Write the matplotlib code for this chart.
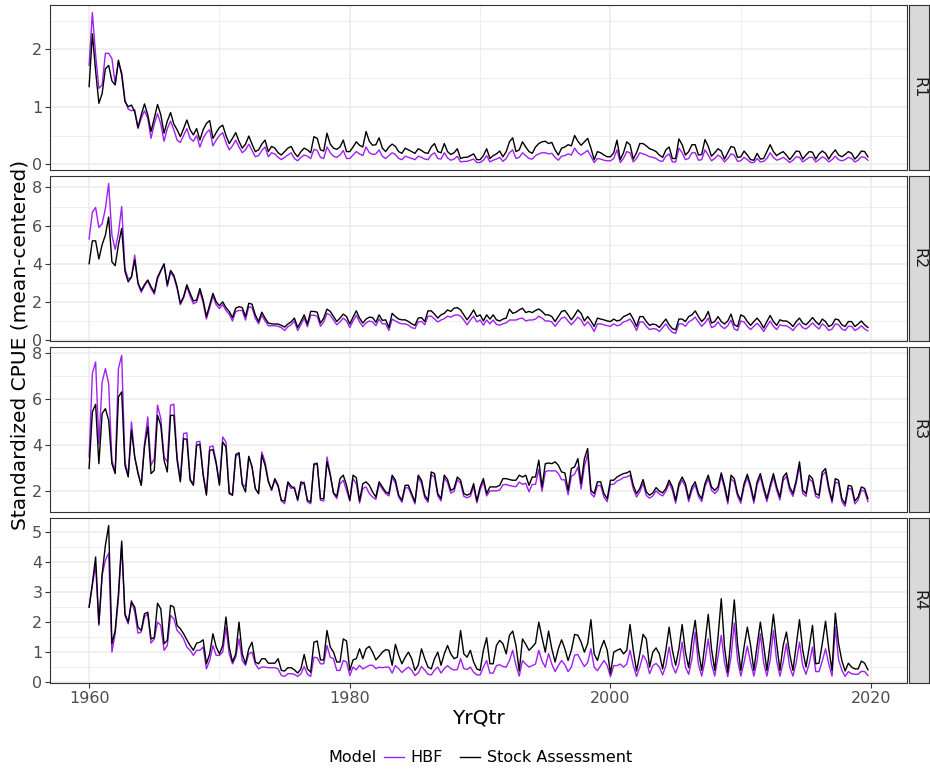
import numpy as np
import matplotlib.pyplot as plt
from matplotlib.lines import Line2D

regions = ['R1', 'R2', 'R3', 'R4']
years = np.arange(1960, 2020)
yrqtr = (years[:, None] + np.array([0.0, 0.25, 0.5, 0.75])).ravel()

# quarterly standardized CPUE, 1960Q1 - 2019Q4, five years per row
r1_sa = [
    1.35, 2.27, 1.62, 1.06, 1.23, 1.66, 1.72, 1.45, 1.38, 1.81, 1.55, 1.09, 1.00, 1.03, 0.91, 0.64, 0.86, 1.05, 0.86, 0.57,
    0.80, 1.04, 0.86, 0.54, 0.75, 0.90, 0.70, 0.60, 0.48, 0.62, 0.77, 0.60, 0.51, 0.62, 0.42, 0.60, 0.71, 0.76, 0.45, 0.55,
    0.64, 0.68, 0.50, 0.36, 0.45, 0.55, 0.40, 0.28, 0.35, 0.49, 0.35, 0.22, 0.25, 0.35, 0.42, 0.22, 0.31, 0.28, 0.20, 0.16,
    0.22, 0.28, 0.31, 0.20, 0.13, 0.22, 0.28, 0.25, 0.20, 0.48, 0.45, 0.25, 0.23, 0.54, 0.35, 0.28, 0.26, 0.30, 0.42, 0.22,
    0.22, 0.30, 0.39, 0.33, 0.30, 0.57, 0.40, 0.33, 0.34, 0.46, 0.28, 0.22, 0.30, 0.35, 0.31, 0.22, 0.19, 0.28, 0.25, 0.22,
    0.19, 0.27, 0.24, 0.20, 0.19, 0.30, 0.36, 0.22, 0.20, 0.36, 0.22, 0.17, 0.20, 0.27, 0.10, 0.12, 0.12, 0.15, 0.18, 0.08,
    0.08, 0.15, 0.27, 0.10, 0.15, 0.18, 0.23, 0.13, 0.22, 0.39, 0.46, 0.22, 0.25, 0.39, 0.30, 0.22, 0.19, 0.30, 0.36, 0.39,
    0.40, 0.36, 0.38, 0.25, 0.16, 0.28, 0.30, 0.34, 0.32, 0.50, 0.40, 0.33, 0.39, 0.45, 0.28, 0.08, 0.22, 0.20, 0.16, 0.13,
    0.13, 0.20, 0.42, 0.08, 0.20, 0.39, 0.34, 0.09, 0.20, 0.36, 0.36, 0.32, 0.27, 0.25, 0.22, 0.16, 0.12, 0.25, 0.30, 0.10,
    0.10, 0.44, 0.34, 0.16, 0.22, 0.34, 0.34, 0.16, 0.17, 0.43, 0.31, 0.14, 0.20, 0.27, 0.23, 0.09, 0.20, 0.31, 0.29, 0.12,
    0.13, 0.23, 0.16, 0.08, 0.07, 0.19, 0.09, 0.10, 0.22, 0.34, 0.22, 0.15, 0.19, 0.22, 0.16, 0.08, 0.15, 0.23, 0.22, 0.09,
    0.16, 0.22, 0.21, 0.09, 0.18, 0.23, 0.19, 0.09, 0.18, 0.25, 0.16, 0.13, 0.17, 0.22, 0.19, 0.09, 0.15, 0.23, 0.22, 0.13,
]
r1_hbf = [
    1.72, 2.64, 1.90, 1.32, 1.38, 1.93, 1.93, 1.84, 1.40, 1.78, 1.60, 1.12, 0.96, 0.93, 0.95, 0.62, 0.80, 0.93, 0.80, 0.45,
    0.70, 0.88, 0.70, 0.40, 0.62, 0.75, 0.60, 0.42, 0.38, 0.50, 0.62, 0.45, 0.40, 0.50, 0.30, 0.45, 0.55, 0.60, 0.32, 0.42,
    0.50, 0.55, 0.38, 0.25, 0.32, 0.42, 0.30, 0.20, 0.25, 0.35, 0.24, 0.13, 0.15, 0.24, 0.30, 0.13, 0.20, 0.18, 0.12, 0.08,
    0.12, 0.16, 0.20, 0.10, 0.06, 0.12, 0.16, 0.14, 0.10, 0.26, 0.24, 0.12, 0.10, 0.30, 0.20, 0.14, 0.12, 0.16, 0.24, 0.10,
    0.10, 0.16, 0.22, 0.18, 0.15, 0.30, 0.20, 0.17, 0.18, 0.25, 0.14, 0.10, 0.15, 0.20, 0.17, 0.10, 0.08, 0.14, 0.12, 0.10,
    0.08, 0.14, 0.12, 0.09, 0.08, 0.16, 0.20, 0.10, 0.09, 0.20, 0.11, 0.07, 0.09, 0.14, 0.04, 0.05, 0.05, 0.07, 0.09, 0.03,
    0.03, 0.07, 0.15, 0.04, 0.07, 0.09, 0.12, 0.05, 0.10, 0.20, 0.25, 0.10, 0.12, 0.20, 0.15, 0.10, 0.09, 0.15, 0.18, 0.20,
    0.20, 0.18, 0.19, 0.12, 0.07, 0.14, 0.15, 0.18, 0.16, 0.28, 0.20, 0.16, 0.20, 0.24, 0.14, 0.03, 0.10, 0.09, 0.07, 0.06,
    0.06, 0.10, 0.25, 0.03, 0.10, 0.22, 0.20, 0.04, 0.10, 0.20, 0.18, 0.16, 0.13, 0.12, 0.10, 0.06, 0.05, 0.14, 0.18, 0.04,
    0.04, 0.28, 0.20, 0.08, 0.10, 0.20, 0.20, 0.07, 0.08, 0.25, 0.16, 0.06, 0.10, 0.16, 0.12, 0.04, 0.10, 0.18, 0.16, 0.05,
    0.06, 0.12, 0.08, 0.03, 0.03, 0.10, 0.04, 0.05, 0.10, 0.20, 0.12, 0.07, 0.09, 0.12, 0.08, 0.03, 0.07, 0.13, 0.12, 0.04,
    0.08, 0.12, 0.12, 0.04, 0.08, 0.13, 0.10, 0.04, 0.08, 0.14, 0.08, 0.06, 0.08, 0.12, 0.10, 0.04, 0.07, 0.13, 0.12, 0.07,
]
r2_sa = [
    4.00, 5.20, 5.20, 4.25, 5.00, 5.50, 6.45, 4.10, 3.90, 5.00, 5.85, 3.60, 3.05, 3.30, 4.20, 3.00, 2.60, 2.90, 3.15, 2.80,
    2.50, 3.30, 3.65, 4.00, 2.90, 3.65, 3.40, 2.80, 1.93, 2.28, 2.90, 2.45, 2.05, 2.10, 2.70, 2.10, 1.23, 1.84, 2.45, 2.00,
    1.80, 2.00, 1.70, 1.50, 1.18, 1.67, 1.75, 1.70, 1.23, 1.93, 1.88, 1.32, 0.97, 1.46, 1.15, 0.89, 0.85, 0.84, 0.84, 0.77,
    0.68, 0.84, 0.95, 1.15, 0.66, 0.97, 1.32, 0.84, 1.50, 1.50, 1.46, 0.89, 1.15, 1.62, 1.50, 1.23, 0.97, 1.15, 1.36, 1.23,
    0.84, 1.20, 1.53, 1.15, 0.89, 1.10, 1.20, 1.18, 0.93, 1.32, 1.03, 1.06, 0.66, 1.40, 1.23, 1.10, 1.06, 1.06, 0.97, 0.85,
    0.77, 1.15, 1.18, 0.97, 1.53, 1.53, 1.36, 1.15, 1.32, 1.40, 1.58, 1.50, 1.67, 1.70, 1.58, 1.32, 1.06, 1.30, 1.58, 1.23,
    1.32, 1.00, 1.32, 1.10, 1.32, 1.06, 1.00, 1.10, 1.15, 1.62, 1.40, 1.46, 1.58, 1.67, 1.44, 1.50, 1.44, 1.55, 1.63, 1.50,
    1.32, 1.32, 1.23, 0.97, 1.23, 1.50, 1.55, 1.32, 1.06, 1.30, 1.58, 1.40, 1.00, 1.23, 1.00, 0.71, 1.15, 1.10, 1.06, 1.00,
    0.97, 1.10, 1.00, 1.05, 1.23, 1.30, 1.40, 1.10, 0.71, 1.23, 1.23, 0.97, 0.77, 0.84, 0.80, 0.66, 0.89, 1.10, 0.80, 0.60,
    0.54, 1.10, 1.10, 0.97, 1.23, 1.32, 1.53, 1.23, 0.97, 1.15, 1.50, 0.89, 0.97, 1.23, 0.97, 0.84, 1.00, 1.36, 0.80, 0.71,
    1.32, 1.23, 0.97, 0.77, 0.97, 1.15, 0.94, 0.63, 0.97, 1.29, 0.97, 0.77, 1.06, 1.00, 1.00, 0.89, 0.71, 0.97, 1.15, 0.89,
    0.80, 0.97, 1.18, 0.97, 0.80, 1.10, 0.97, 0.71, 0.80, 1.10, 1.06, 0.80, 0.71, 0.97, 0.97, 0.71, 0.84, 1.00, 0.80, 0.66,
]
r2_hbf = [
    5.30, 6.70, 6.95, 5.90, 6.10, 6.90, 8.20, 5.50, 4.75, 5.60, 7.00, 3.75, 3.20, 3.30, 4.45, 2.95, 2.50, 2.85, 3.10, 2.70,
    2.40, 3.20, 3.60, 3.95, 2.80, 3.55, 3.30, 2.70, 1.85, 2.20, 2.80, 2.30, 1.90, 2.00, 2.55, 1.95, 1.10, 1.70, 2.30, 1.85,
    1.65, 1.85, 1.55, 1.35, 1.00, 1.50, 1.55, 1.55, 1.05, 1.75, 1.70, 1.15, 0.85, 1.30, 1.00, 0.75, 0.75, 0.75, 0.72, 0.65,
    0.50, 0.70, 0.80, 1.00, 0.50, 0.80, 1.15, 0.70, 1.30, 1.30, 1.25, 0.72, 0.95, 1.40, 1.30, 1.05, 0.80, 0.95, 1.15, 1.00,
    0.65, 1.00, 1.30, 0.95, 0.70, 0.90, 1.00, 0.95, 0.75, 1.10, 0.85, 0.85, 0.50, 1.10, 1.00, 0.90, 0.85, 0.85, 0.78, 0.65,
    0.60, 0.95, 0.98, 0.80, 1.25, 1.25, 1.10, 0.95, 1.05, 1.12, 1.25, 1.20, 1.30, 1.32, 1.25, 1.05, 0.80, 1.05, 1.25, 0.95,
    1.05, 0.78, 1.05, 0.85, 1.05, 0.82, 0.78, 0.85, 0.90, 1.05, 1.05, 1.05, 1.12, 1.15, 1.00, 1.05, 1.05, 1.10, 1.25, 1.15,
    1.00, 1.00, 0.95, 0.72, 0.95, 1.15, 1.20, 1.00, 0.80, 1.00, 1.20, 1.05, 0.75, 0.95, 0.75, 0.45, 0.85, 0.85, 0.80, 0.75,
    0.72, 0.85, 0.75, 0.80, 0.95, 1.00, 1.10, 0.85, 0.50, 0.95, 0.95, 0.72, 0.55, 0.60, 0.58, 0.45, 0.65, 0.85, 0.58, 0.40,
    0.35, 0.85, 0.85, 0.72, 0.95, 1.05, 1.20, 0.95, 0.72, 0.90, 1.15, 0.65, 0.72, 0.95, 0.72, 0.60, 0.75, 1.05, 0.58, 0.50,
    1.00, 0.95, 0.72, 0.55, 0.72, 0.88, 0.70, 0.45, 0.72, 1.00, 0.72, 0.55, 0.80, 0.75, 0.75, 0.65, 0.50, 0.72, 0.88, 0.65,
    0.58, 0.72, 0.90, 0.72, 0.58, 0.85, 0.72, 0.50, 0.58, 0.85, 0.80, 0.58, 0.50, 0.72, 0.72, 0.50, 0.60, 0.75, 0.58, 0.48,
]
r3_sa = [
    2.99, 5.45, 5.78, 3.20, 5.38, 5.59, 5.09, 3.20, 2.77, 6.10, 6.32, 3.13, 2.62, 4.65, 3.49, 2.77, 2.26, 3.93, 4.80, 2.77,
    2.91, 5.30, 4.87, 3.35, 2.84, 5.30, 5.30, 3.35, 2.41, 4.29, 4.25, 2.48, 2.26, 4.00, 4.04, 2.70, 1.83, 3.78, 3.81, 3.20,
    2.26, 4.14, 3.93, 1.90, 1.83, 3.60, 3.67, 2.30, 1.97, 3.52, 3.06, 2.12, 1.90, 3.57, 3.13, 2.41, 2.07, 2.55, 2.26, 1.61,
    1.58, 2.41, 2.22, 2.12, 1.64, 2.41, 2.33, 1.61, 1.54, 3.17, 3.20, 1.68, 1.68, 3.28, 2.70, 1.93, 1.78, 2.55, 2.70, 2.26,
    1.61, 2.70, 2.59, 1.58, 2.33, 2.41, 2.26, 1.97, 1.75, 2.41, 2.19, 1.97, 1.90, 2.70, 2.48, 1.83, 1.61, 2.26, 2.26, 1.90,
    1.54, 2.70, 2.48, 1.83, 1.61, 2.84, 2.77, 1.90, 1.68, 2.70, 2.51, 2.04, 2.12, 2.62, 2.48, 1.90, 1.83, 1.90, 2.33, 1.58,
    2.19, 2.55, 1.90, 2.19, 2.19, 2.19, 2.26, 2.55, 2.55, 2.51, 2.48, 2.48, 2.70, 2.62, 2.70, 2.26, 2.62, 2.62, 3.35, 2.19,
    3.20, 3.23, 3.20, 3.28, 3.13, 2.84, 2.80, 2.04, 2.99, 3.06, 3.42, 2.33, 3.42, 3.86, 2.04, 1.90, 2.41, 2.41, 1.90, 1.68,
    2.48, 2.48, 2.62, 2.70, 2.77, 2.80, 2.88, 2.26, 1.90, 2.12, 2.51, 1.97, 1.83, 1.93, 2.16, 2.01, 1.93, 2.12, 2.48, 2.19,
    1.61, 2.33, 2.62, 2.33, 1.68, 2.19, 2.41, 1.90, 1.68, 2.33, 2.70, 2.19, 2.04, 2.19, 2.80, 2.26, 1.58, 2.70, 2.55, 1.90,
    1.61, 2.33, 2.74, 2.26, 1.61, 2.41, 2.77, 2.19, 1.68, 2.26, 2.77, 2.19, 1.75, 2.62, 2.80, 2.19, 1.90, 2.48, 3.28, 2.04,
    1.90, 2.70, 2.55, 1.90, 1.83, 2.84, 2.99, 2.19, 1.61, 2.55, 2.48, 1.68, 1.46, 2.26, 2.22, 1.58, 1.75, 2.19, 2.12, 1.68,
]
r3_hbf = [
    3.49, 7.12, 7.62, 4.07, 6.75, 7.33, 6.68, 3.35, 2.84, 7.33, 7.91, 3.28, 2.70, 5.01, 3.49, 2.84, 2.26, 4.07, 5.23, 3.13,
    3.42, 5.74, 5.16, 3.49, 3.28, 5.74, 5.78, 3.49, 2.48, 4.51, 4.54, 2.55, 2.33, 4.14, 4.17, 2.77, 1.90, 3.93, 3.97, 3.28,
    2.33, 4.36, 4.14, 1.97, 1.83, 3.49, 3.67, 2.33, 2.19, 3.49, 3.06, 2.12, 1.90, 3.71, 3.28, 2.48, 2.04, 2.48, 2.19, 1.58,
    1.46, 2.33, 2.12, 2.19, 1.58, 2.26, 2.41, 1.54, 1.46, 3.20, 3.23, 1.61, 1.58, 3.49, 2.77, 1.90, 1.68, 2.33, 2.48, 2.04,
    1.58, 2.55, 2.33, 1.49, 2.12, 2.19, 1.90, 1.75, 1.65, 2.30, 2.10, 1.90, 1.80, 2.60, 2.35, 1.75, 1.52, 2.15, 2.15, 1.80,
    1.45, 2.60, 2.35, 1.72, 1.52, 2.72, 2.62, 1.80, 1.58, 2.58, 2.38, 1.92, 2.00, 2.50, 2.35, 1.78, 1.72, 1.78, 2.20, 1.50,
    2.05, 2.42, 1.80, 2.02, 2.02, 2.02, 2.05, 2.28, 2.30, 2.25, 2.22, 2.20, 2.40, 2.30, 2.35, 1.98, 2.30, 2.30, 2.95, 2.00,
    2.85, 2.90, 2.88, 2.90, 2.78, 2.50, 2.50, 1.85, 2.65, 2.75, 3.05, 2.10, 3.10, 3.60, 1.90, 1.75, 2.25, 2.25, 1.75, 1.55,
    2.30, 2.30, 2.45, 2.50, 2.60, 2.62, 2.70, 2.10, 1.75, 1.98, 2.35, 1.82, 1.70, 1.80, 2.02, 1.88, 1.80, 2.00, 2.35, 2.05,
    1.48, 2.20, 2.48, 2.20, 1.55, 2.05, 2.28, 1.78, 1.55, 2.20, 2.55, 2.05, 1.90, 2.05, 2.65, 2.12, 1.45, 2.55, 2.40, 1.78,
    1.48, 2.20, 2.60, 2.12, 1.48, 2.28, 2.62, 2.05, 1.55, 2.12, 2.62, 2.05, 1.62, 2.48, 2.65, 2.05, 1.78, 2.35, 3.10, 1.90,
    1.78, 2.55, 2.40, 1.78, 1.70, 2.70, 2.85, 2.05, 1.50, 2.40, 2.35, 1.55, 1.35, 2.12, 2.10, 1.45, 1.62, 2.05, 2.00, 1.55,
]
r4_sa = [
    2.50, 3.28, 4.17, 1.94, 3.60, 4.56, 5.22, 1.28, 1.72, 2.94, 4.70, 2.28, 2.00, 2.67, 2.50, 1.83, 1.72, 2.28, 2.33, 1.44,
    1.48, 2.63, 2.44, 1.28, 1.39, 2.56, 2.50, 1.89, 1.78, 1.61, 1.41, 1.22, 1.06, 1.30, 1.33, 1.41, 0.61, 0.94, 1.61, 1.17,
    0.94, 1.22, 2.17, 1.17, 0.67, 0.94, 2.00, 0.94, 0.61, 1.11, 1.33, 0.67, 0.61, 0.78, 0.78, 0.63, 0.63, 0.63, 0.78, 0.39,
    0.37, 0.48, 0.48, 0.41, 0.30, 0.44, 0.92, 0.44, 0.33, 1.33, 1.37, 0.74, 0.74, 1.72, 1.17, 1.00, 0.67, 0.67, 1.44, 1.37,
    0.39, 0.74, 0.78, 1.11, 0.78, 1.11, 1.19, 1.00, 0.74, 0.86, 1.00, 1.08, 1.06, 0.56, 1.26, 0.89, 0.61, 0.83, 1.00, 0.78,
    0.39, 0.56, 1.11, 0.78, 0.50, 0.44, 0.78, 1.00, 0.56, 0.94, 1.22, 0.94, 0.78, 0.83, 1.72, 0.94, 0.83, 1.06, 0.67, 0.44,
    0.39, 1.06, 1.48, 0.61, 0.61, 1.22, 1.39, 1.28, 0.94, 1.56, 1.70, 1.22, 0.37, 1.44, 1.26, 1.06, 1.17, 1.30, 2.00, 1.48,
    1.00, 1.70, 1.11, 0.67, 1.11, 1.41, 1.11, 0.72, 1.06, 1.59, 1.56, 1.33, 1.00, 1.28, 2.08, 0.94, 0.72, 1.11, 1.39, 1.06,
    0.28, 1.00, 1.06, 1.11, 0.94, 1.06, 1.92, 1.06, 0.37, 0.94, 1.59, 1.44, 0.50, 1.00, 1.14, 0.94, 0.44, 1.06, 1.83, 1.06,
    0.56, 1.11, 1.92, 1.00, 0.48, 1.39, 2.06, 1.06, 0.39, 1.28, 2.26, 1.11, 0.39, 1.50, 2.78, 1.17, 0.33, 1.50, 2.74, 1.28,
    0.39, 1.17, 1.83, 1.22, 0.39, 1.22, 2.00, 1.22, 0.39, 1.28, 2.26, 1.28, 0.39, 1.22, 1.67, 0.94, 0.39, 1.22, 2.08, 1.06,
    0.50, 1.17, 1.89, 0.61, 0.63, 1.28, 2.03, 1.11, 0.39, 2.30, 1.28, 0.72, 0.37, 0.63, 0.50, 0.44, 0.44, 0.70, 0.63, 0.41,
]
r4_hbf = [
    2.50, 3.22, 3.89, 1.89, 3.56, 4.06, 4.30, 1.00, 1.61, 2.78, 4.56, 2.22, 1.94, 2.72, 2.33, 1.63, 1.67, 2.17, 2.28, 1.30,
    1.44, 2.00, 1.89, 1.06, 1.22, 2.22, 2.11, 1.72, 1.61, 1.44, 1.17, 1.06, 0.89, 1.06, 1.06, 1.17, 0.44, 0.72, 1.22, 0.89,
    0.89, 1.00, 1.83, 0.94, 0.61, 0.83, 1.44, 0.72, 0.56, 0.94, 1.00, 0.61, 0.44, 0.50, 0.50, 0.48, 0.48, 0.48, 0.44, 0.22,
    0.19, 0.28, 0.28, 0.26, 0.19, 0.28, 0.52, 0.26, 0.19, 0.83, 0.81, 0.61, 0.61, 1.22, 0.83, 0.78, 0.39, 0.39, 0.72, 0.67,
    0.22, 0.50, 0.41, 0.56, 0.44, 0.50, 0.56, 0.56, 0.45, 0.50, 0.48, 0.50, 0.50, 0.30, 0.55, 0.45, 0.32, 0.42, 0.50, 0.40,
    0.22, 0.30, 0.52, 0.40, 0.26, 0.24, 0.40, 0.50, 0.30, 0.45, 0.55, 0.45, 0.40, 0.42, 0.78, 0.45, 0.42, 0.50, 0.33, 0.24,
    0.24, 0.50, 0.72, 0.30, 0.30, 0.55, 0.58, 0.52, 0.50, 0.72, 1.06, 0.56, 0.20, 0.72, 0.60, 0.50, 0.55, 0.60, 1.06, 0.70,
    0.50, 0.95, 0.60, 0.35, 0.55, 0.72, 0.58, 0.35, 0.50, 0.90, 0.92, 0.70, 0.52, 0.65, 1.11, 0.50, 0.38, 0.55, 0.72, 0.55,
    0.18, 0.55, 0.55, 0.60, 0.50, 0.60, 1.06, 0.55, 0.19, 0.50, 0.90, 0.72, 0.28, 0.55, 0.62, 0.50, 0.24, 0.55, 1.17, 0.55,
    0.30, 0.60, 1.33, 0.50, 0.26, 0.78, 1.67, 0.58, 0.20, 0.70, 1.44, 0.60, 0.20, 0.85, 1.56, 0.65, 0.18, 0.85, 1.97, 0.72,
    0.20, 0.65, 1.20, 0.65, 0.20, 0.70, 1.61, 0.65, 0.20, 0.72, 1.72, 0.70, 0.20, 0.65, 1.28, 0.50, 0.20, 0.65, 1.33, 0.55,
    0.26, 0.62, 1.17, 0.35, 0.35, 0.70, 1.11, 0.60, 0.20, 1.83, 0.75, 0.40, 0.19, 0.35, 0.28, 0.26, 0.26, 0.36, 0.35, 0.22,
]

hbf = [r1_hbf, r2_hbf, r3_hbf, r4_hbf]
sa = [r1_sa, r2_sa, r3_sa, r4_sa]

ylims = [(-0.1, 2.77), (-0.05, 8.6), (1.1, 8.27), (-0.03, 5.47)]
yticks = [[0, 1, 2], [0, 2, 4, 6, 8], [2, 4, 6, 8], [0, 1, 2, 3, 4, 5]]

HBF_COL = '#A020F0'
GRID = '#EBEBEB'
BORDER = '#333333'

W, H = 930, 770
fig = plt.figure(figsize=(W / 100, H / 100), dpi=100)

left, right = 50, 907
tops = [5, 176, 347, 518]
ph = 165

for k, reg in enumerate(regions):
    top = tops[k]
    ax = fig.add_axes([left / W, 1 - (top + ph) / H, (right - left) / W, ph / H])
    ax.set_facecolor('white')

    ax.plot(yrqtr, hbf[k], color=HBF_COL, lw=1.0, zorder=3)
    ax.plot(yrqtr, sa[k], color='black', lw=1.0, zorder=4)

    ax.set_xlim(1957.0, 2022.75)
    ax.set_xticks([1960, 1980, 2000, 2020])
    ax.set_xticks([1970, 1990, 2010], minor=True)
    yt = yticks[k]
    step = yt[1] - yt[0]
    ax.set_yticks(yt)
    ax.set_yticks([v + step / 2 for v in yt[:-1]] +
                  [yt[-1] + step / 2, yt[0] - step / 2], minor=True)
    ax.set_ylim(*ylims[k])

    ax.grid(True, which='major', color=GRID, lw=1.1, zorder=0)
    ax.grid(True, which='minor', color=GRID, lw=0.55, zorder=0)
    ax.set_axisbelow(True)

    for sp in ax.spines.values():
        sp.set_color(BORDER)
        sp.set_linewidth(0.8)

    ax.tick_params(which='major', length=3.5, width=0.8, color=BORDER,
                   labelsize=11.5, labelcolor='#4D4D4D', pad=2)
    ax.tick_params(which='minor', length=0)
    if k < 3:
        ax.tick_params(axis='x', which='major', labelbottom=False, length=0)

    # facet strip on the right
    sax = fig.add_axes([909 / W, 1 - (top + ph) / H, 20 / W, ph / H])
    sax.set_facecolor('#D9D9D9')
    sax.set_xticks([])
    sax.set_yticks([])
    for sp in sax.spines.values():
        sp.set_color(BORDER)
        sp.set_linewidth(0.8)
    sax.text(0.5, 0.5, reg, rotation=270, ha='center', va='center',
             fontsize=11.5, color='#1A1A1A', transform=sax.transAxes)

fig.text(20 / W, 1 - 345 / H, 'Standardized CPUE (mean-centered)', rotation=90,
         ha='center', va='center', fontsize=14.5)
fig.text(478 / W, 1 - 718 / H, 'YrQtr', ha='center', va='center', fontsize=14.5)

# legend along the bottom
fig.text(328 / W, 1 - 758 / H, 'Model', ha='left', va='center', fontsize=11.5)
handles = [Line2D([], [], color=HBF_COL, lw=1.0), Line2D([], [], color='black', lw=1.0)]
fig.legend(handles, ['HBF', 'Stock Assessment'], loc='center left',
           bbox_to_anchor=(384 / W, 1 - 758 / H), ncol=2, frameon=False,
           fontsize=11.5, handlelength=1.25, handletextpad=0.4, columnspacing=1.1,
           borderaxespad=0, borderpad=0)

fig.savefig('out.png', dpi=100)
